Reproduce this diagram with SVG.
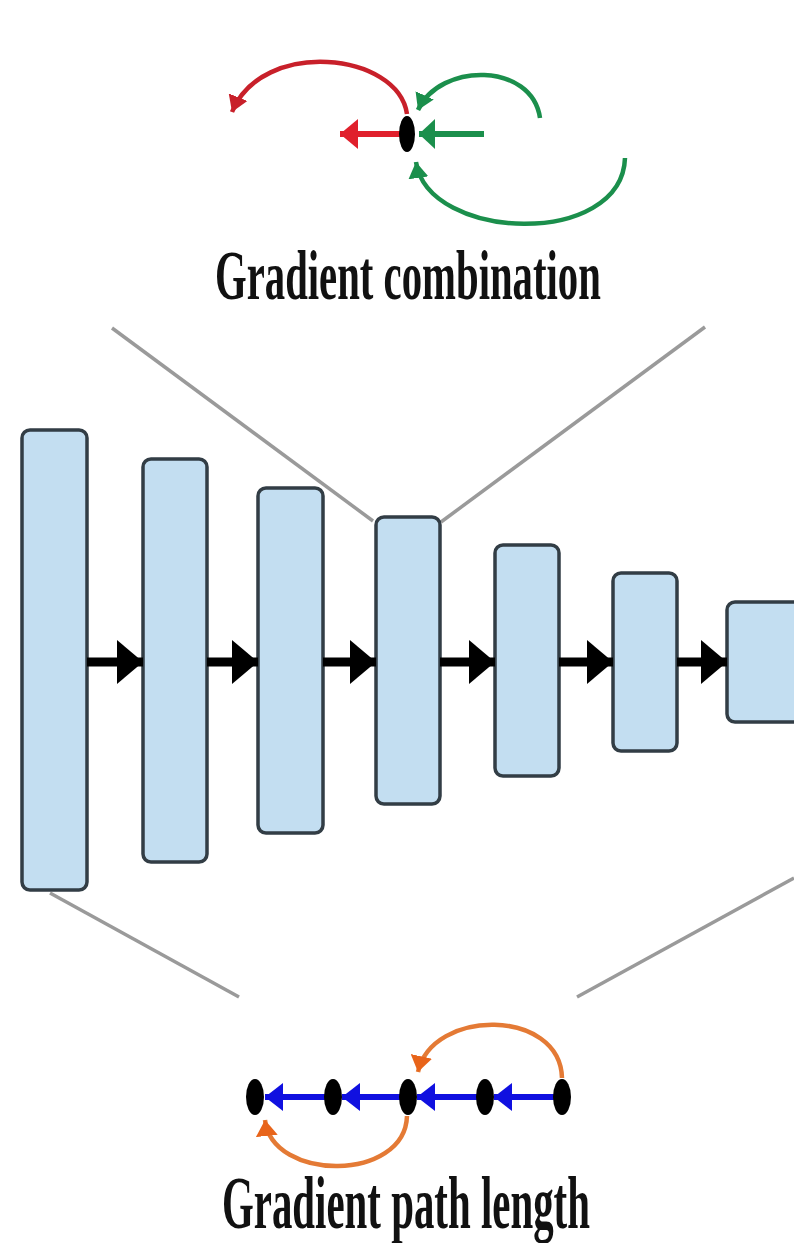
<svg xmlns="http://www.w3.org/2000/svg" width="794" height="1243" viewBox="0 0 794 1243">
<style>
.blk{fill:#c3def1;stroke:#323d45;stroke-width:3.5}
.guide{stroke:#9a9a9a;stroke-width:3.5;fill:none}
.flow{stroke:#000;stroke-width:9;fill:none}
.lbl{font-family:"Liberation Serif","Times New Roman",serif;font-weight:bold;fill:#111}
.dot{fill:#000}
</style>
<defs>
<marker id="hBlack" markerUnits="userSpaceOnUse" markerWidth="26" markerHeight="44" viewBox="0 0 26 44" refX="26" refY="22" orient="auto"><path d="M0,0 L26,22 L0,44 z" fill="#000"/></marker>
<marker id="hRed" markerUnits="userSpaceOnUse" markerWidth="18" markerHeight="30" viewBox="0 0 18 30" refX="18" refY="15" orient="auto"><path d="M0,0 L18,15 L0,30 z" fill="#e0202c"/></marker>
<marker id="hRedArc" markerUnits="userSpaceOnUse" markerWidth="16" markerHeight="20" viewBox="0 0 16 20" refX="16" refY="10" orient="auto"><path d="M0,0 L16,10 L0,20 z" fill="#c8202a"/></marker>
<marker id="hGreen" markerUnits="userSpaceOnUse" markerWidth="16" markerHeight="30" viewBox="0 0 16 30" refX="16" refY="15" orient="auto"><path d="M0,0 L16,15 L0,30 z" fill="#1b8f4c"/></marker>
<marker id="hGreenArc" markerUnits="userSpaceOnUse" markerWidth="16" markerHeight="20" viewBox="0 0 16 20" refX="16" refY="10" orient="auto"><path d="M0,0 L16,10 L0,20 z" fill="#1b8f4c"/></marker>
<marker id="hBlue" markerUnits="userSpaceOnUse" markerWidth="18" markerHeight="28" viewBox="0 0 18 28" refX="18" refY="14" orient="auto"><path d="M0,0 L18,14 L0,28 z" fill="#1010e0"/></marker>
<marker id="hOrange" markerUnits="userSpaceOnUse" markerWidth="16" markerHeight="22" viewBox="0 0 16 22" refX="16" refY="11" orient="auto"><path d="M0,0 L16,11 L0,22 z" fill="#e8641a"/></marker>
</defs>
<rect width="794" height="1243" fill="#fff"/>

<g id="guides">
<line class="guide" x1="112" y1="328" x2="373" y2="521"/>
<line class="guide" x1="705" y1="327" x2="441" y2="522"/>
<line class="guide" x1="50" y1="893" x2="239" y2="997"/>
<line class="guide" x1="794" y1="878" x2="577" y2="997"/>
</g>

<g id="block1"><rect class="blk" x="22" y="430" width="65" height="460" rx="8"/></g>
<g id="block2"><rect class="blk" x="143" y="459" width="64" height="403" rx="8"/></g>
<g id="block3"><rect class="blk" x="258" y="488" width="65" height="345" rx="8"/></g>
<g id="block4"><rect class="blk" x="376" y="517" width="64" height="287" rx="8"/></g>
<g id="block5"><rect class="blk" x="495" y="545" width="64" height="231" rx="8"/></g>
<g id="block6"><rect class="blk" x="613" y="573" width="64" height="178" rx="8"/></g>
<g id="block7"><rect class="blk" x="727" y="602" width="90" height="120" rx="8"/></g>

<g id="connectors">
<line class="flow" x1="87" y1="662" x2="143" y2="662" marker-end="url(#hBlack)"/>
<line class="flow" x1="207" y1="662" x2="258" y2="662" marker-end="url(#hBlack)"/>
<line class="flow" x1="323" y1="662" x2="376" y2="662" marker-end="url(#hBlack)"/>
<line class="flow" x1="440" y1="662" x2="495" y2="662" marker-end="url(#hBlack)"/>
<line class="flow" x1="559" y1="662" x2="613" y2="662" marker-end="url(#hBlack)"/>
<line class="flow" x1="677" y1="662" x2="727" y2="662" marker-end="url(#hBlack)"/>
</g>

<g id="gradient-combination">
<path d="M407,114 C398,52 262,38 232,112" fill="none" stroke="#c8202a" stroke-width="4.5" marker-end="url(#hRedArc)"/>
<line x1="405" y1="134" x2="340" y2="134" stroke="#e0202c" stroke-width="6" marker-end="url(#hRed)"/>
<path d="M540,118 C532,62 440,62 418,110" fill="none" stroke="#1b8f4c" stroke-width="4.5" marker-end="url(#hGreenArc)"/>
<line x1="484" y1="134" x2="419" y2="134" stroke="#1b8f4c" stroke-width="6" marker-end="url(#hGreen)"/>
<path d="M625,158 C622,248 428,242 416,162" fill="none" stroke="#1b8f4c" stroke-width="4.5" marker-end="url(#hGreenArc)"/>
<ellipse class="dot" cx="407" cy="134" rx="8" ry="18"/>
<text class="lbl" font-size="70" transform="translate(215,299) scale(0.582,1)">Gradient combination</text>
</g>

<g id="gradient-path-length">
<path d="M562,1078 C560,1008 432,1008 418,1072" fill="none" stroke="#e47a35" stroke-width="4.5" marker-end="url(#hOrange)"/>
<path d="M407,1116 C405,1182 272,1182 265,1120" fill="none" stroke="#e47a35" stroke-width="4.5" marker-end="url(#hOrange)"/>
<line x1="333" y1="1097" x2="265" y2="1097" stroke="#1010e0" stroke-width="6" marker-end="url(#hBlue)"/>
<line x1="408" y1="1097" x2="342" y2="1097" stroke="#1010e0" stroke-width="6" marker-end="url(#hBlue)"/>
<line x1="485" y1="1097" x2="417" y2="1097" stroke="#1010e0" stroke-width="6" marker-end="url(#hBlue)"/>
<line x1="562" y1="1097" x2="494" y2="1097" stroke="#1010e0" stroke-width="6" marker-end="url(#hBlue)"/>
<ellipse class="dot" cx="255" cy="1097" rx="9" ry="18"/>
<ellipse class="dot" cx="333" cy="1097" rx="9" ry="18"/>
<ellipse class="dot" cx="408" cy="1097" rx="9" ry="18"/>
<ellipse class="dot" cx="485" cy="1097" rx="9" ry="18"/>
<ellipse class="dot" cx="562" cy="1097" rx="9" ry="18"/>
<text class="lbl" font-size="74" transform="translate(222,1228) scale(0.5525,1)">Gradient path length</text>
</g>
</svg>
